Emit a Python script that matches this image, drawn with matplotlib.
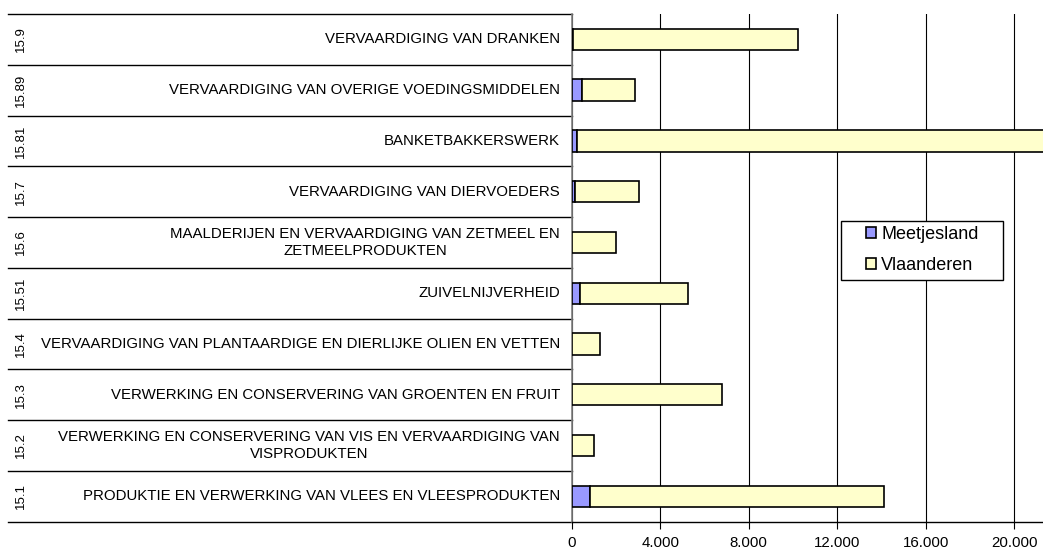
import matplotlib
matplotlib.use('Agg')
import matplotlib.pyplot as plt
import matplotlib.transforms as mtransforms
from matplotlib.patches import Rectangle

plt.rcParams['font.family'] = ['Liberation Sans', 'DejaVu Sans']

# data, bottom row first
codes = ['15.1', '15.2', '15.3', '15.4', '15.51', '15.6', '15.7', '15.81', '15.89', '15.9']
labels = [
    'PRODUKTIE EN VERWERKING VAN VLEES EN VLEESPRODUKTEN',
    'VERWERKING EN CONSERVERING VAN VIS EN VERVAARDIGING VAN\nVISPRODUKTEN',
    'VERWERKING EN CONSERVERING VAN GROENTEN EN FRUIT',
    'VERVAARDIGING VAN PLANTAARDIGE EN DIERLIJKE OLIEN EN VETTEN',
    'ZUIVELNIJVERHEID',
    'MAALDERIJEN EN VERVAARDIGING VAN ZETMEEL EN\nZETMEELPRODUKTEN',
    'VERVAARDIGING VAN DIERVOEDERS',
    'BANKETBAKKERSWERK',
    'VERVAARDIGING VAN OVERIGE VOEDINGSMIDDELEN',
    'VERVAARDIGING VAN DRANKEN',
]
meetjesland = [827, 10, 30, 15, 362, 20, 135, 253, 452, 40]
vlaanderen = [13300, 998, 6750, 1278, 4908, 1982, 2920, 23500, 2409, 10200]
xticks = [0, 4000, 8000, 12000, 16000, 20000]
xticklabels = ['0', '4.000', '8.000', '12.000', '16.000', '20.000']

W, H = 1043, 548
left_px, bottom_px, top_px = 571.7, 521.7, 14

fig = plt.figure(figsize=(W / 100, H / 100), dpi=100)
ax = fig.add_axes([left_px / W, 1 - bottom_px / H, 1 - left_px / W, (bottom_px - top_px) / H])

ypos = list(range(len(codes)))
ax.barh(ypos, meetjesland, height=0.42, color='#9999FF', edgecolor='black',
        linewidth=1.2, label='Meetjesland', zorder=3)
ax.barh(ypos, vlaanderen, left=meetjesland, height=0.42, color='#FFFFCC',
        edgecolor='black', linewidth=1.2, label='Vlaanderen', zorder=3)

ax.set_xlim(0, 21300)
ax.set_ylim(-0.5, len(codes) - 0.5)
ax.set_xticks(xticks)
ax.set_xticklabels(xticklabels, fontsize=10.8)
ax.tick_params(axis='x', length=5, width=0.8, color='black', pad=5)
ax.set_yticks([])
ax.xaxis.grid(True, color='black', linewidth=0.8, zorder=0)

for s in ['top', 'right']:
    ax.spines[s].set_visible(False)
ax.spines['left'].set_color('#808080')
ax.spines['left'].set_linewidth(1.2)
ax.spines['bottom'].set_color('black')
ax.spines['bottom'].set_linewidth(1.0)

# table-like category area on the left
trans = mtransforms.blended_transform_factory(fig.transFigure, ax.transData)
x0 = 8 / W
x1 = left_px / W
for k in range(len(codes) + 1):
    ax.plot([x0, x1], [k - 0.5, k - 0.5], color='black', linewidth=1.0,
            transform=trans, clip_on=False)
for k in range(len(codes)):
    ax.text(21 / W, k, codes[k], rotation=90, ha='center', va='center',
            fontsize=9.5, transform=trans)
    ax.text(560 / W, k, labels[k], ha='right', va='center',
            multialignment='center', fontsize=10.8, transform=trans)

# legend with a wide frame
aw, ah = W - left_px, bottom_px - top_px
ax.add_patch(Rectangle(((841 - left_px) / aw, (bottom_px - 280) / ah),
                       162 / aw, 59 / ah, transform=ax.transAxes,
                       facecolor='white', edgecolor='black', linewidth=1.0,
                       zorder=4, clip_on=False))
leg = ax.legend(loc='upper left',
                bbox_to_anchor=((866 - left_px) / aw, (bottom_px - 226) / ah),
                fontsize=13, frameon=False,
                handlelength=0.55, handleheight=0.55, handletextpad=0.3,
                borderpad=0, labelspacing=0.75, borderaxespad=0)
leg.set_zorder(5)

fig.savefig('out.png', dpi=100)
